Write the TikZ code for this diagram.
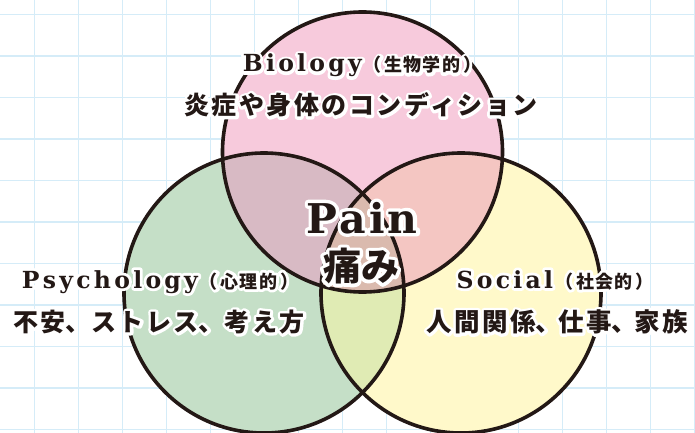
\documentclass[tikz,border=0pt]{standalone}
\usepackage{fontspec}
\newfontfamily\jp{Noto Sans CJK JP}
\newfontfamily\jpsp[LetterSpace=10]{Noto Sans CJK JP}
\newfontfamily\jpps[LetterSpace=6]{Noto Sans CJK JP}
\newfontfamily\slab[LetterSpace=14]{DejaVu Serif}
\newfontfamily\slabp[LetterSpace=8]{DejaVu Serif}
\definecolor{gridc}{HTML}{D5ECF8}
\definecolor{pinkc}{HTML}{F7CADC}
\definecolor{greenc}{HTML}{C5DFC7}
\definecolor{yellowc}{HTML}{FFF9CA}
\definecolor{pgc}{HTML}{D8BAC4}
\definecolor{pyc}{HTML}{F4C6C2}
\definecolor{gyc}{HTML}{E0EBB4}
\definecolor{allc}{HTML}{DABAAE}
\definecolor{inkc}{HTML}{231815}
\def\halow{5.6}
% white outline: one stroked copy (text render mode 1) under the filled text
\newcommand\halo[1]{\leavevmode\smash{\rlap{\color{white}\special{pdf:literal direct 1 Tr \halow\space w 1 j 1 J}#1\special{pdf:literal direct 0 Tr}}}#1}
\newcommand\tc[1][0.65em]{\makebox[#1][l]{、}}
\newcommand\latin{\slab\bfseries\fontsize{23.5}{23.5}\selectfont}
\newcommand\paren{\jpps\bfseries\fontsize{18}{18}\selectfont}
\newcommand\pr[1]{{\paren\kern2pt（\kern3pt#1\kern3pt）}}
\newcommand\jpline{\jpsp\bfseries\fontsize{25}{25}\selectfont}
\tikzset{
  lab/.style={inner sep=0pt, text=inkc},
  gridline/.style={gridc, line width=1.5pt},
  ring/.style={inkc, line width=3.6pt},
}
\begin{document}
\begin{tikzpicture}[x=1pt,y=-1pt]
\useasboundingbox (0,0) rectangle (695,433);
\fill[white] (0,0) rectangle (695,433);
% grid
\foreach \k in {0,...,15} \draw[gridline] (34.5+44*\k,0) -- (34.5+44*\k,433);
\foreach \k in {0,...,10} \draw[gridline] (0,14.5+41.5*\k) -- (695,14.5+41.5*\k);
% circle centres
\coordinate (T) at (362.5,152);
\coordinate (L) at (264,293);
\coordinate (R) at (461,293);
\def\rad{140pt}
\fill[pinkc] (T) circle (\rad);
\fill[greenc] (L) circle (\rad);
\fill[yellowc] (R) circle (\rad);
\begin{scope}\clip (T) circle (\rad); \fill[pgc] (L) circle (\rad);\end{scope}
\begin{scope}\clip (T) circle (\rad); \fill[pyc] (R) circle (\rad);\end{scope}
\begin{scope}\clip (L) circle (\rad); \fill[gyc] (R) circle (\rad);\end{scope}
\begin{scope}\clip (T) circle (\rad); \clip (L) circle (\rad); \fill[allc] (R) circle (\rad);\end{scope}
\draw[ring] (T) circle (\rad);
\draw[ring] (L) circle (\rad);
\draw[ring] (R) circle (\rad);
% labels
\node[lab, anchor=base] (bio) at (362,72) {\halo{{\latin Biology}\pr{生物学的}}};
\node[lab] (bioj) at (361,105) {\halo{\jpline 炎症や身体のコンディション}};
\node[lab, anchor=base] (psy) at (160,288) {\halo{{\latin Psychology}\pr{心理的}}};
\node[lab] (psyj) at (159,322) {\halo{\jpline 不安\tc[0.7em] ストレス\tc[0.7em] 考え方}};
\node[lab, anchor=base] (soc) at (555,288) {\halo{{\latin Social}\pr{社会的}}};
\node[lab] (socj) at (557,322) {\halo{\jpsp\bfseries\fontsize{25.5}{25.5}\selectfont 人間関係\tc[0.55em] 仕事\tc[0.55em] 家族}};
\def\halow{6.8}
\node[lab, anchor=base] (pain) at (362,233) {\halo{\slabp\bfseries\fontsize{41}{41}\selectfont Pain}};
\node[lab] (ita) at (361,266) {\halo{\jp\bfseries\fontsize{38}{38}\selectfont 痛み}};
\end{tikzpicture}
\end{document}
